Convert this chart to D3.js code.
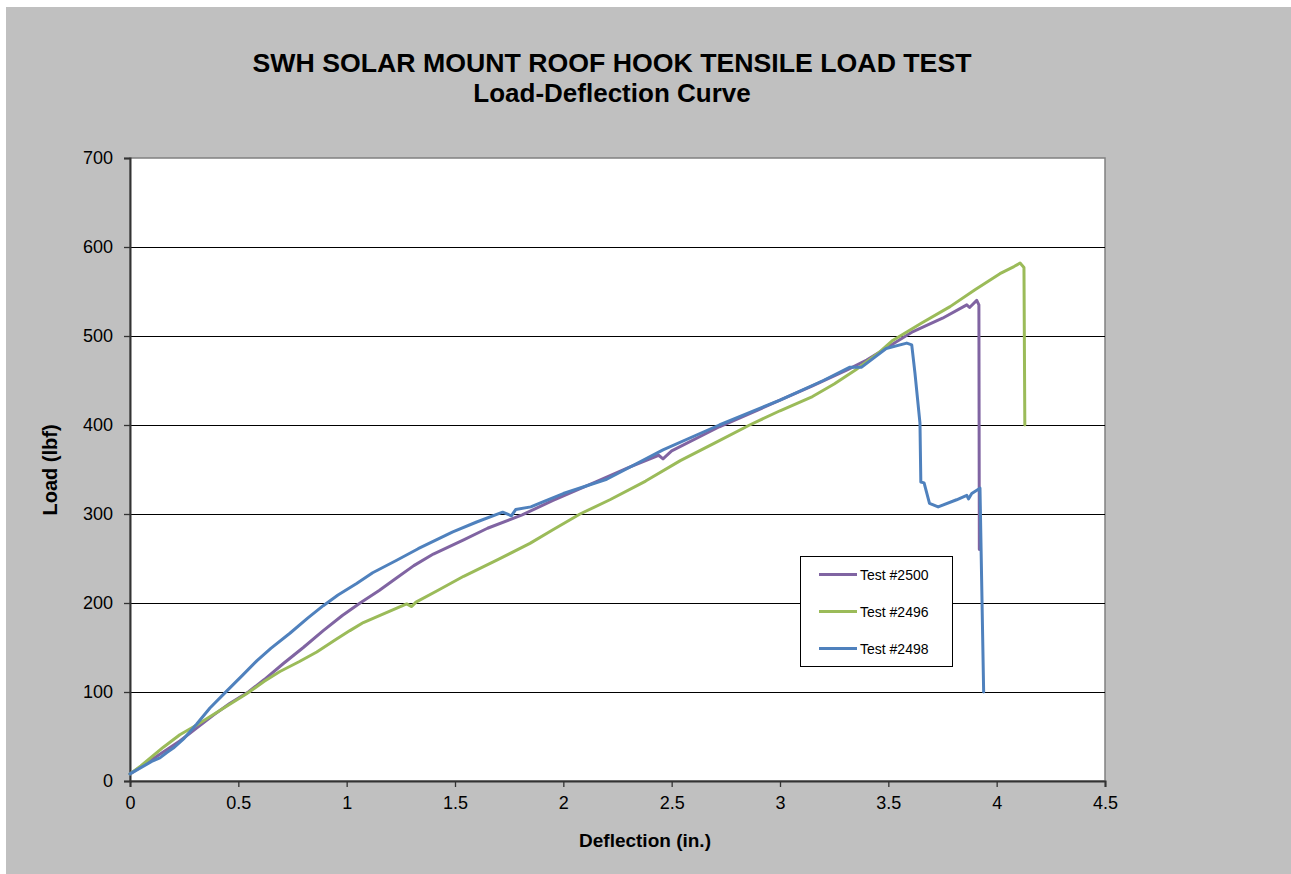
<!DOCTYPE html>
<html>
<head>
<meta charset="utf-8">
<script src="https://cdn.jsdelivr.net/npm/d3@7"></script>
<style>
  html, body { margin: 0; padding: 0; background: #fff; }
  svg { display: block; font-family: Arial, "Liberation Sans", sans-serif; }
</style>
</head>
<body>
<script>
// Load-deflection readings, [deflection (in.), load (lbf)]
var test2500 = [
  [0, 8], [0.05, 16], [0.1, 24], [0.15, 32], [0.23, 45], [0.3, 58], [0.385, 74],
  [0.46, 87], [0.546, 100], [0.62, 114], [0.708, 132], [0.8, 150], [0.892, 169],
  [0.98, 186], [1.062, 200], [1.15, 214], [1.23, 228], [1.31, 242], [1.4, 255],
  [1.54, 271], [1.65, 284], [1.81, 299], [1.95, 315], [2.15, 336], [2.3, 352],
  [2.44, 366], [2.46, 362], [2.5, 371], [2.72, 398], [2.9, 417], [3.0, 428],
  [3.15, 444], [3.31, 462], [3.4, 473], [3.5, 488], [3.614, 505], [3.75, 520],
  [3.862, 535], [3.875, 532], [3.908, 540], [3.918, 535], [3.92, 260]
];
var test2496 = [
  [0, 8], [0.05, 17], [0.154, 38], [0.23, 52], [0.308, 63], [0.42, 80],
  [0.538, 98], [0.62, 112], [0.692, 123], [0.78, 134], [0.862, 145], [0.95, 159],
  [1.015, 169], [1.077, 178], [1.154, 186], [1.277, 199], [1.3, 196], [1.32, 201],
  [1.42, 214], [1.54, 230], [1.7, 249], [1.846, 267], [1.95, 282], [2.077, 300],
  [2.215, 316], [2.38, 337], [2.54, 360], [2.7, 380], [2.86, 400], [3.0, 416],
  [3.15, 432], [3.25, 446], [3.35, 462], [3.45, 480], [3.52, 495], [3.65, 514],
  [3.785, 533], [3.9, 552], [4.015, 570], [4.08, 578], [4.108, 582],
  [4.126, 577], [4.13, 400]
];
var test2498 = [
  [0, 8], [0.05, 15], [0.1, 22], [0.138, 26], [0.17, 32], [0.2, 37], [0.25, 48],
  [0.308, 64], [0.369, 82], [0.446, 101], [0.52, 119], [0.585, 135], [0.65, 149],
  [0.738, 166], [0.82, 183], [0.892, 197], [0.96, 209], [1.046, 222], [1.12, 234],
  [1.231, 248], [1.33, 261], [1.49, 280], [1.6, 291], [1.72, 302], [1.76, 298],
  [1.78, 305], [1.85, 308], [1.9, 313], [2.0, 323], [2.2, 339], [2.46, 372],
  [2.72, 400], [3.0, 428], [3.2, 450], [3.323, 465], [3.377, 465], [3.49, 486],
  [3.585, 492], [3.608, 490], [3.623, 458], [3.646, 402], [3.65, 336],
  [3.665, 335], [3.69, 312], [3.73, 308], [3.815, 316], [3.862, 321],
  [3.87, 317], [3.885, 323], [3.923, 329], [3.94, 100]
];

var seriesNames = ['Test #2500', 'Test #2496', 'Test #2498'];
var seriesColors = ['#8064A2', '#9BBB59', '#4F81BD'];
var seriesData = [test2500, test2496, test2498];

var xTicks = [0, 0.5, 1, 1.5, 2, 2.5, 3, 3.5, 4, 4.5];
var yTicks = [0, 100, 200, 300, 400, 500, 600, 700];

var W = 1291, H = 874;
var plot = { left: 130, right: 1105, top: 158, bottom: 781 };

var svg = d3.select('body').append('svg')
    .attr('width', W)
    .attr('height', H);

// Chart area background
svg.append('rect')
    .attr('x', 6).attr('y', 7)
    .attr('width', W - 6).attr('height', H - 7)
    .attr('fill', '#c0c0c0');

var x = d3.scaleLinear().domain([0, 4.5]).range([plot.left, plot.right]);
var y = d3.scaleLinear().domain([0, 700]).range([plot.bottom, plot.top]);

// Plot area
svg.append('rect')
    .attr('x', plot.left).attr('y', plot.top)
    .attr('width', plot.right - plot.left).attr('height', plot.bottom - plot.top)
    .attr('fill', '#fff')
    .attr('stroke', '#808080')
    .attr('stroke-width', 1.5);

// Horizontal gridlines
svg.append('g')
  .selectAll('line')
  .data(yTicks.filter(function(d) { return d > 0 && d < 700; }))
  .enter().append('line')
    .attr('x1', plot.left).attr('x2', plot.right)
    .attr('y1', function(d) { return Math.round(y(d)) + 0.5; })
    .attr('y2', function(d) { return Math.round(y(d)) + 0.5; })
    .attr('stroke', '#000')
    .attr('stroke-width', 1);

// Axes
var xAxis = d3.axisBottom(x).tickValues(xTicks).tickSize(6).tickPadding(9)
    .tickFormat(function(d) { return String(d); });
var yAxis = d3.axisLeft(y).tickValues(yTicks).tickSize(6).tickPadding(11)
    .tickFormat(function(d) { return String(d); });

var gx = svg.append('g')
    .attr('transform', 'translate(0,' + plot.bottom + ')')
    .call(xAxis);
var gy = svg.append('g')
    .attr('transform', 'translate(' + plot.left + ',0)')
    .call(yAxis);

[gx, gy].forEach(function(g) {
    g.select('.domain').attr('stroke', '#333').attr('stroke-width', 2);
    g.selectAll('.tick line').attr('stroke', '#333').attr('stroke-width', 1.3);
    g.selectAll('.tick text')
      .attr('fill', '#000')
      .style('font-size', '18px')
      .style('font-family', 'Arial, "Liberation Sans", sans-serif');
});

// Series lines
var line = d3.line()
    .x(function(d) { return x(d[0]); })
    .y(function(d) { return y(d[1]); });

svg.append('g')
  .selectAll('path')
  .data(seriesData)
  .enter().append('path')
    .attr('d', line)
    .attr('fill', 'none')
    .attr('stroke', function(d, i) { return seriesColors[i]; })
    .attr('stroke-width', 3)
    .attr('stroke-linejoin', 'round')
    .attr('stroke-linecap', 'round');

// Titles
svg.append('text')
    .attr('x', 612).attr('y', 72)
    .attr('text-anchor', 'middle')
    .style('font-size', '26.7px').style('font-weight', 'bold')
    .text('SWH SOLAR MOUNT ROOF HOOK TENSILE LOAD TEST');
svg.append('text')
    .attr('x', 612).attr('y', 102)
    .attr('text-anchor', 'middle')
    .style('font-size', '26px').style('font-weight', 'bold')
    .text('Load-Deflection Curve');

svg.append('text')
    .attr('x', 645).attr('y', 847)
    .attr('text-anchor', 'middle')
    .style('font-size', '19px').style('font-weight', 'bold')
    .text('Deflection (in.)');
svg.append('text')
    .attr('transform', 'translate(57,470) rotate(-90)')
    .attr('text-anchor', 'middle')
    .style('font-size', '20px').style('font-weight', 'bold')
    .text('Load (lbf)');

// Legend
var legend = svg.append('g').attr('transform', 'translate(800,556)');
legend.append('rect')
    .attr('x', 0.5).attr('y', 0.5)
    .attr('width', 152).attr('height', 110)
    .attr('fill', '#fff')
    .attr('stroke', '#000')
    .attr('stroke-width', 1);

var items = legend.selectAll('g.item')
  .data(seriesNames)
  .enter().append('g')
    .attr('class', 'item')
    .attr('transform', function(d, i) { return 'translate(0,' + (18.5 + i * 37) + ')'; });

items.append('line')
    .attr('x1', 19).attr('x2', 57)
    .attr('stroke', function(d, i) { return seriesColors[i]; })
    .attr('stroke-width', 3);
items.append('text')
    .attr('x', 60).attr('y', 5)
    .style('font-size', '14px')
    .text(function(d) { return d; });
</script>
</body>
</html>
